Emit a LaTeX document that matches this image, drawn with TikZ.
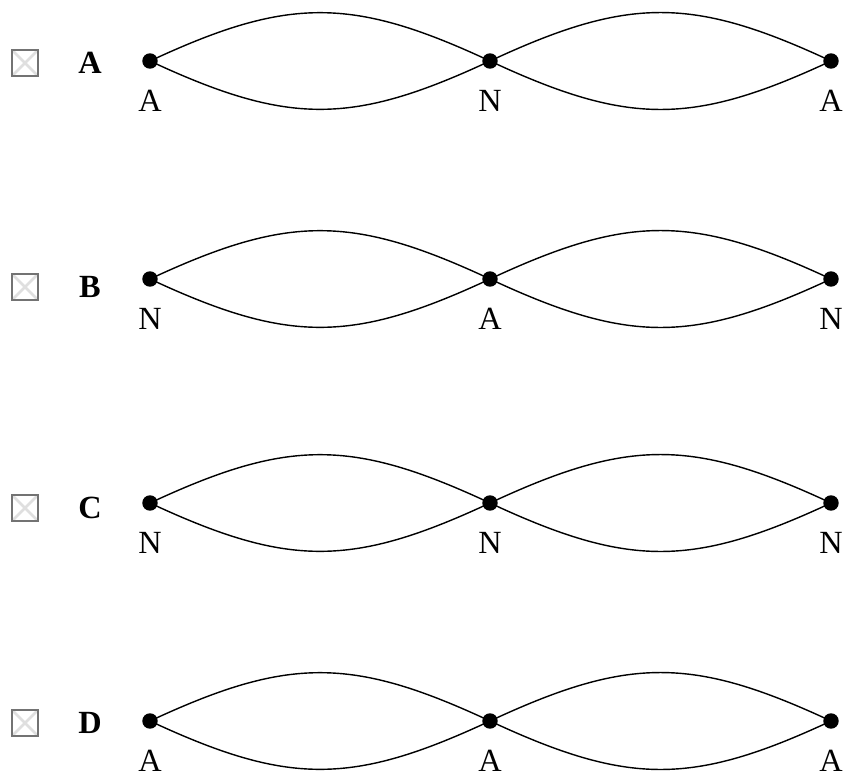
\documentclass[tikz,border=0pt]{standalone}
\usepackage{fontspec}
\setmainfont{Liberation Serif}
\usepackage{tikz}

\tikzset{
  dot/.style={circle,fill=black,inner sep=0pt,minimum size=11pt},
  wave/.style={line width=1pt,looseness=1.15},
  chkbox/.style={draw=gray!90!black,line width=1.6pt,minimum size=19pt,inner sep=0pt,
    path picture={\draw[gray!25,line width=2pt] (path picture bounding box.south west) -- (path picture bounding box.north east)
      (path picture bounding box.north west) -- (path picture bounding box.south east);}},
  choice/.style={font=\fontsize{23}{26}\selectfont\bfseries},
  every label/.style={font=\fontsize{23}{26}\selectfont,inner sep=0pt},
  label distance=15pt
}

\begin{document}
\begin{tikzpicture}[x=0.025cm, y=-0.025cm]
    \useasboundingbox (0,0) rectangle (844,778);

    % option A
    \node[chkbox] (boxa) at (25,63) {};
    \node[choice] (opta) at (90,63) {A};
    \node[dot,label={below:A}] (a1) at (150,61) {};
    \node[dot,label={below:N}] (a2) at (490,61) {};
    \node[dot,label={below:A}] (a3) at (831,61) {};
    \draw[wave] (a1.center) to[out=25,in=155] (a2.center);
    \draw[wave] (a1.center) to[out=-25,in=-155] (a2.center);
    \draw[wave] (a2.center) to[out=25,in=155] (a3.center);
    \draw[wave] (a2.center) to[out=-25,in=-155] (a3.center);

    % option B
    \node[chkbox] (boxb) at (25,287) {};
    \node[choice] (optb) at (90,287) {B};
    \node[dot,label={below:N}] (b1) at (150,279) {};
    \node[dot,label={below:A}] (b2) at (490,279) {};
    \node[dot,label={below:N}] (b3) at (831,279) {};
    \draw[wave] (b1.center) to[out=25,in=155] (b2.center);
    \draw[wave] (b1.center) to[out=-25,in=-155] (b2.center);
    \draw[wave] (b2.center) to[out=25,in=155] (b3.center);
    \draw[wave] (b2.center) to[out=-25,in=-155] (b3.center);

    % option C
    \node[chkbox] (boxc) at (25,508) {};
    \node[choice] (optc) at (90,508) {C};
    \node[dot,label={below:N}] (c1) at (150,503) {};
    \node[dot,label={below:N}] (c2) at (490,503) {};
    \node[dot,label={below:N}] (c3) at (831,503) {};
    \draw[wave] (c1.center) to[out=25,in=155] (c2.center);
    \draw[wave] (c1.center) to[out=-25,in=-155] (c2.center);
    \draw[wave] (c2.center) to[out=25,in=155] (c3.center);
    \draw[wave] (c2.center) to[out=-25,in=-155] (c3.center);

    % option D
    \node[chkbox] (boxd) at (25,723) {};
    \node[choice] (optd) at (90,723) {D};
    \node[dot,label={below:A}] (d1) at (150,721) {};
    \node[dot,label={below:A}] (d2) at (490,721) {};
    \node[dot,label={below:A}] (d3) at (831,721) {};
    \draw[wave] (d1.center) to[out=25,in=155] (d2.center);
    \draw[wave] (d1.center) to[out=-25,in=-155] (d2.center);
    \draw[wave] (d2.center) to[out=25,in=155] (d3.center);
    \draw[wave] (d2.center) to[out=-25,in=-155] (d3.center);
\end{tikzpicture}
\end{document}
